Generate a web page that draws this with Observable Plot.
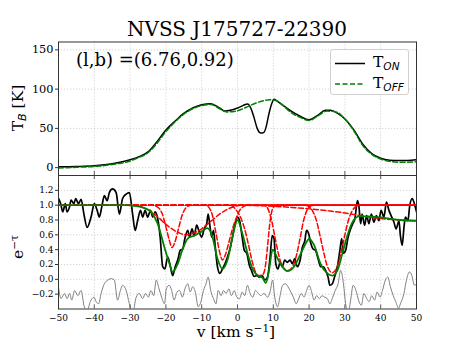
<!DOCTYPE html>
<html><head><meta charset="utf-8">
<script src="https://cdn.jsdelivr.net/npm/d3@7"></script>
<script src="https://cdn.jsdelivr.net/npm/@observablehq/plot@0.6"></script>
<style>
body{margin:0;background:#fff;}
#fig{position:relative;width:463px;height:347px;font-family:"DejaVu Serif",serif;color:#000;overflow:hidden;background:#fff}
#fig svg{position:absolute;left:0;overflow:visible}
.lbl{position:absolute;white-space:nowrap;line-height:1}
.sub{font-family:"DejaVu Sans",sans-serif;font-style:italic;font-size:0.68em;position:relative;top:0.3em}
.sup{font-size:0.68em;position:relative;top:-0.5em}
</style></head><body><div id="fig"></div>
<script>
// ---------- data ----------
const xTicks = [-50,-40,-30,-20,-10,0,10,20,30,40,50];
const topTicks = [0,50,100,150];
const bottomTicks = [-0.2,0,0.2,0.4,0.6,0.8,1.0,1.2];

// Top panel: brightness temperature [K] vs v [km/s]
const tOn = [[-50,1],[-45,1.5],[-40,2.5],[-35,5],[-30,10],[-27.5,14],[-25,20],[-22.5,33],[-20,48],[-17.5,59],[-15,69],[-12.5,76],[-10,80],[-7.5,81.5],[-5,76],[-3.5,72],[-2,73],[0,76],[1.5,79],[2.8,81],[3.8,75],[4.6,64],[5.5,50],[6.5,44],[7.4,45],[8,52],[8.8,69],[9.6,82],[10.2,87],[11,85],[12.5,80],[15,72],[17.5,65.5],[20,61],[22.5,67],[24.5,73],[26,73],[28,69],[30,62],[32.5,48],[35,30],[37.5,18],[40,12],[42.5,9.5],[45,9],[47.5,9],[50,10]];
const tOff = [[-50,-0.5],[-45,0.5],[-40,1.5],[-35,4],[-30,8.5],[-27.5,13],[-25,19],[-22.5,31],[-20,46],[-17.5,58],[-15,68],[-12.5,75],[-10,79],[-7.5,80.5],[-5,75],[-3,71],[-1,71.5],[1,74],[3,78],[5,82],[7,85],[9,86.5],[11,85],[12.5,80],[15,70],[17.5,64],[20,60],[22.5,66],[25,72],[27.5,71],[30,62],[32.5,47],[35,28],[37.5,17],[40,11],[42.5,8],[45,7],[47.5,7],[50,7.5]];

// Bottom panel: observed e^-tau
const obs = [[-50,1.09],[-49.4,1.02],[-48.8,0.91],[-48.1,1.02],[-47.6,0.91],[-46.9,0.98],[-46.5,1.07],[-45.7,1.02],[-45.2,1.09],[-44.4,1.02],[-43.7,1.08],[-42.9,0.88],[-42,0.70],[-40.9,0.84],[-40,1.02],[-39.2,0.93],[-38.6,0.84],[-37.9,0.98],[-37.2,1.13],[-36.4,1.06],[-35.8,1.17],[-34.9,1.22],[-33.9,1.17],[-33,0.88],[-32.1,1.09],[-31.1,1.15],[-30.2,1.17],[-29.3,0.88],[-28.6,0.66],[-27.9,0.79],[-27.1,0.93],[-26.5,0.84],[-25.8,0.93],[-25.1,0.84],[-24.3,0.93],[-23.7,0.84],[-23,0.91],[-22.3,0.82],[-21.6,0.57],[-20.9,0.17],[-20.3,0.14],[-19.5,0.30],[-18.9,0.21],[-18.1,0.05],[-17.4,0.17],[-16.7,0.26],[-16,0.39],[-15.3,0.41],[-14.7,0.55],[-13.9,0.66],[-13.4,0.57],[-12.7,0.68],[-12.1,0.59],[-11.4,0.73],[-10.7,0.64],[-10,0.57],[-9.3,0.68],[-8.6,0.75],[-8.2,0.88],[-7.6,0.68],[-7.2,0.57],[-6.7,0.66],[-6.2,0.43],[-5.6,0.17],[-4.9,0.08],[-4.2,0.14],[-3.5,0.21],[-2.8,0.30],[-2,0.43],[-1.4,0.57],[-0.7,0.75],[0,0.84],[0.6,0.79],[1.3,0.57],[1.9,0.39],[2.6,0.35],[3.3,0.19],[3.9,0.12],[4.6,0.04],[5.4,0.05],[6.1,0.03],[6.9,0.05],[7.6,-0.01],[8.4,0.03],[9.1,0.30],[9.7,0.59],[10.2,0.55],[10.7,0.21],[11.3,0.14],[11.9,0.23],[12.5,0.17],[13.2,0.26],[13.9,0.23],[14.7,0.26],[15.3,0.21],[16,0.28],[16.7,0.17],[17.5,0.26],[18.1,0.43],[18.8,0.52],[19.3,0.66],[19.9,0.61],[20.4,0.50],[21.1,0.41],[21.8,0.39],[22.5,0.28],[23.2,0.17],[24,0.17],[24.6,0.12],[25.3,0.03],[25.8,-0.08],[26.5,-0.06],[27.1,0.03],[27.9,0.17],[28.6,0.39],[29.1,0.55],[29.6,0.35],[30.2,0.39],[30.9,0.57],[31.6,0.68],[32.2,0.75],[32.8,0.82],[33.5,1.06],[33.9,0.99],[34.4,0.75],[34.8,0.88],[35.5,0.73],[36.1,0.86],[36.7,0.75],[37.4,0.88],[38.1,0.77],[38.8,0.86],[39.5,0.79],[40.1,0.93],[40.9,0.84],[41.6,1.04],[42.3,0.93],[42.9,0.86],[43.7,0.77],[44.3,0.68],[45.1,0.79],[45.5,0.59],[46,0.46],[46.5,0.70],[46.9,0.84],[47.6,0.79],[48.1,0.99],[48.8,1.09],[49.4,1.02],[50,0.91]];

// Residuals (offset)
const resid = [[-50,-0.10],[-49.3,-0.26],[-48.3,-0.19],[-47.6,-0.26],[-46.9,-0.19],[-46.3,-0.28],[-45.5,-0.15],[-44.6,-0.22],[-43.7,-0.15],[-42.8,-0.37],[-42,-0.42],[-41.1,-0.30],[-40.1,-0.24],[-39.5,-0.30],[-38.8,-0.33],[-38.1,-0.19],[-37.2,-0.06],[-36.2,-0.01],[-35.3,0.01],[-34.4,-0.01],[-33.5,-0.28],[-32.7,-0.15],[-32.1,-0.08],[-31.1,-0.15],[-30.2,-0.33],[-29.3,-0.46],[-28.3,-0.24],[-27.4,-0.19],[-26.5,-0.26],[-25.7,-0.19],[-24.9,-0.24],[-24.2,-0.15],[-23.4,-0.22],[-22.7,-0.01],[-21.9,-0.13],[-21.2,-0.24],[-20.4,-0.33],[-19.9,-0.13],[-19.1,-0.08],[-18.4,-0.15],[-17.7,-0.28],[-16.9,-0.17],[-16.2,-0.15],[-15.4,-0.24],[-14.7,-0.13],[-13.9,-0.06],[-13.2,-0.17],[-12.5,-0.10],[-11.7,-0.19],[-11,-0.37],[-10.2,-0.30],[-9.5,-0.15],[-8.8,-0.06],[-8.2,0.03],[-7.4,-0.17],[-6.7,-0.26],[-6,-0.33],[-5.4,-0.15],[-4.6,-0.22],[-3.9,-0.15],[-3.2,-0.19],[-2.4,-0.13],[-1.7,-0.22],[-0.9,-0.15],[-0.2,-0.24],[0.6,-0.26],[1.3,-0.17],[2,-0.22],[2.8,-0.08],[3.5,-0.19],[4.3,-0.24],[5,-0.15],[5.8,-0.19],[6.5,-0.22],[7.4,-0.19],[8.4,-0.24],[9.1,-0.17],[9.8,-0.01],[10.4,-0.24],[11.2,-0.37],[11.9,-0.22],[12.6,-0.08],[13.4,-0.06],[14.1,-0.10],[14.9,-0.17],[15.6,-0.24],[16.4,-0.33],[17.1,-0.26],[17.8,-0.19],[18.6,-0.24],[19.3,-0.15],[20,-0.08],[20.6,-0.15],[21.4,-0.28],[22.1,-0.22],[22.9,-0.26],[23.6,-0.22],[24.3,-0.24],[25.1,-0.26],[25.8,-0.33],[26.6,-0.24],[27.3,-0.15],[28.1,-0.06],[28.8,0.12],[29.6,-0.06],[30.2,-0.33],[30.9,-0.46],[31.6,-0.28],[32.3,-0.08],[33.1,-0.15],[33.8,-0.28],[34.6,-0.35],[35.3,-0.19],[36.1,-0.26],[36.8,-0.30],[37.5,-0.22],[38.3,-0.28],[39,-0.17],[39.8,-0.24],[40.5,-0.15],[41.3,-0.01],[42,0.03],[42.7,-0.10],[43.5,-0.22],[44.2,-0.30],[45,-0.39],[45.5,-0.33],[46.5,-0.19],[47.2,-0.01],[48,0.10],[48.7,0.05],[49.4,-0.08],[50,-0.06]];

// Total Gaussian fit
const fit = [[-50,1],[-31,1],[-28.8,0.99],[-26,0.96],[-24.2,0.91],[-22.3,0.75],[-20.4,0.43],[-19,0.21],[-18.1,0.10],[-16.7,0.21],[-15.3,0.41],[-13.9,0.55],[-12.1,0.59],[-10.2,0.64],[-8.4,0.69],[-7,0.57],[-5.6,0.28],[-4.2,0.14],[-2.8,0.26],[-1.4,0.57],[0,0.80],[1.4,0.61],[2.8,0.35],[4.2,0.14],[5.6,0.05],[7,0.02],[7.9,-0.05],[8.8,0.12],[9.8,0.40],[11.2,0.28],[12.5,0.17],[13.9,0.11],[15.8,0.17],[17.7,0.35],[19.5,0.52],[20,0.55],[21.4,0.46],[23.2,0.21],[25.1,0.08],[26.5,0.05],[27.9,0.12],[29.3,0.35],[30.7,0.59],[32.1,0.77],[34,0.85],[36.2,0.85],[41,0.83],[45.5,0.80],[50,0.79]];

// Individual Gaussian components (e^-tau_i)
const compA = [[-50,1],[-24,1],[-22.5,0.98],[-21,0.88],[-20,0.71],[-19,0.52],[-18.3,0.43],[-17.5,0.5],[-16.5,0.68],[-15.5,0.86],[-14.5,0.96],[-13,1],[50,1]];
const compB = [[-50,1],[-30,1],[-28,0.99],[-26,0.96],[-24,0.91],[-22,0.83],[-20,0.74],[-18,0.67],[-16,0.62],[-14.5,0.60],[-13,0.61],[-11,0.65],[-9,0.72],[-7,0.80],[-5,0.88],[-3,0.94],[-1,0.98],[1,1],[50,1]];
const compC = [[-50,1],[-9,1],[-8,0.97],[-7,0.86],[-6,0.62],[-5,0.37],[-4.2,0.26],[-3.4,0.33],[-2.4,0.5],[-1.4,0.68],[-0.4,0.82],[0.6,0.93],[1.6,0.98],[2.6,1],[50,1]];
const compD = [[-50,1],[-2,1],[-1,0.97],[0,0.91],[1,0.82],[2,0.68],[3,0.48],[4,0.26],[5,0.1],[6,0.05],[7,0.06],[7.7,0.15],[8.3,0.4],[8.9,0.7],[9.5,0.9],[10.2,0.98],[11,1],[50,1]];
const compE = [[-50,1],[7.5,1],[8.5,0.95],[9.5,0.8],[10.5,0.56],[11.5,0.33],[12.5,0.18],[14,0.12],[15.5,0.18],[16.5,0.33],[17.5,0.56],[18.5,0.8],[19.5,0.94],[20.5,0.99],[21.5,1],[50,1]];
const compF = [[-50,1],[19,1],[20,0.98],[21,0.92],[22,0.8],[23,0.6],[24,0.38],[25,0.19],[26.5,0.09],[28,0.19],[29,0.38],[30,0.6],[31,0.8],[32,0.92],[33,0.98],[34,1],[50,1]];
const compG = [[-50,1],[0,1],[5,0.995],[10,0.985],[15,0.97],[20,0.95],[25,0.925],[30,0.895],[33,0.87],[36,0.845],[40,0.82],[45,0.80],[50,0.79]];
const components = [compA, compB, compC, compD, compE, compF, compG];

const titleText = "NVSS J175727-22390";
const coordText = "(l,b) =(6.76,0.92)";

// ---------- drawing ----------
const fig = document.getElementById("fig");
const W = 463, mL = 58, mR = 47, panelH = 133.5;
const gridStyle = {stroke: "#c8c8c8", strokeOpacity: 1, strokeDasharray: "1.2,1.8", strokeWidth: 0.8};
const style = {fontFamily: "'DejaVu Serif', serif", fontSize: "10px", background: "transparent", overflow: "visible", color: "#000"};
const X = d => d[0], Y = d => d[1];

const topPlot = Plot.plot({
  width: W, height: 41.5 + panelH, marginTop: 41.5, marginBottom: 0, marginLeft: mL, marginRight: mR,
  style,
  x: {domain: [-50, 50], axis: null},
  y: {domain: [-10, 160], axis: null},
  marks: [
    Plot.gridX(xTicks, gridStyle),
    Plot.gridY(topTicks, gridStyle),
    Plot.line(tOn, {x: X, y: Y, stroke: "black", strokeWidth: 1.5, curve: "monotone-x", clip: true}),
    Plot.line(tOff, {x: X, y: Y, stroke: "#008000", strokeWidth: 1.5, strokeDasharray: "5,2.5", curve: "monotone-x", clip: true}),
    Plot.tickX(xTicks, {x: d => d, insetTop: panelH - 4, stroke: "#333", strokeWidth: 0.8}),
    Plot.axisY({ticks: topTicks, tickSize: 3, tickPadding: 2, fontSize: 11.3, label: null, stroke: "#333", tickFormat: d3.format("d")}),
    Plot.frame({stroke: "#333", strokeWidth: 1})
  ]
});
topPlot.style.top = "0px";
fig.appendChild(topPlot);

const botPlot = Plot.plot({
  width: W, height: panelH + 38.5, marginTop: 0, marginBottom: 38.5, marginLeft: mL, marginRight: mR,
  style,
  x: {domain: [-50, 50], axis: null},
  y: {domain: [-0.4, 1.4], axis: null},
  marks: [
    Plot.gridX(xTicks, gridStyle),
    Plot.gridY(bottomTicks, gridStyle),
    Plot.line(resid, {x: X, y: Y, stroke: "gray", strokeWidth: 1, curve: "monotone-x", clip: true}),
    Plot.line(obs, {x: X, y: Y, stroke: "black", strokeWidth: 1.7, curve: "monotone-x", clip: true}),
    ...components.map(c => Plot.line(c, {x: X, y: Y, stroke: "red", strokeWidth: 1.5, strokeDasharray: "5,2.5", curve: "monotone-x", clip: true})),
    Plot.line(fit, {x: X, y: Y, stroke: "#008000", strokeWidth: 1.8, curve: "monotone-x", clip: true}),
    Plot.tickX(xTicks, {x: d => d, insetBottom: panelH - 4, stroke: "#333", strokeWidth: 0.8}),
    Plot.tickX(xTicks, {x: d => d, insetTop: panelH - 4, stroke: "#333", strokeWidth: 0.8}),
    Plot.axisX({ticks: xTicks, tickSize: 0, tickPadding: 5.5, fontSize: 9, label: null, tickFormat: d3.format("d")}),
    Plot.axisY({ticks: bottomTicks, tickSize: 3, tickPadding: 2, fontSize: 9, label: null, stroke: "#333", tickFormat: d3.format(".1f")}),
    Plot.frame({stroke: "#333", strokeWidth: 1})
  ]
});
botPlot.style.top = (41.5 + panelH) + "px";
fig.appendChild(botPlot);

function label(html, x, y, size, rot) {
  const d = document.createElement("div");
  d.className = "lbl";
  d.innerHTML = html;
  d.style.left = x + "px";
  d.style.top = y + "px";
  d.style.fontSize = size + "px";
  d.style.transform = "translate(-50%,-50%)" + (rot ? " rotate(-90deg)" : "");
  fig.appendChild(d);
  return d;
}
label(titleText, 237, 29, 20);
const coord = label(coordText, 76, 60, 18);
coord.style.transform = "translate(0,-50%)";
label('T<span class="sub" style="font-size:0.72em">B</span> [K]', 19, 108, 15.5, true);
label('e<span class="sup">&minus;&tau;</span>', 19, 247, 15.5, true);
label('v [km s<span class="sup">&minus;1</span>]', 236, 333, 15.5);

// legend
const leg = document.createElement("div");
leg.style.cssText = "position:absolute;left:330px;top:49px;width:79px;height:46px;border:1px solid #d0d0d0;border-radius:3px;background:rgba(255,255,255,0.85);box-sizing:border-box";
leg.innerHTML = `<svg width="79" height="46" style="position:absolute;left:0;top:0">
<line x1="4" x2="34" y1="13.5" y2="13.5" stroke="black" stroke-width="1.5"/>
<line x1="4" x2="34" y1="34" y2="34" stroke="#008000" stroke-width="1.5" stroke-dasharray="5,2.5"/></svg>
<div class="lbl" style="left:42px;top:5px;font-size:15.5px">T<span class="sub">ON</span></div>
<div class="lbl" style="left:42px;top:25.5px;font-size:15.5px">T<span class="sub">OFF</span></div>`;
fig.appendChild(leg);
</script></body></html>
